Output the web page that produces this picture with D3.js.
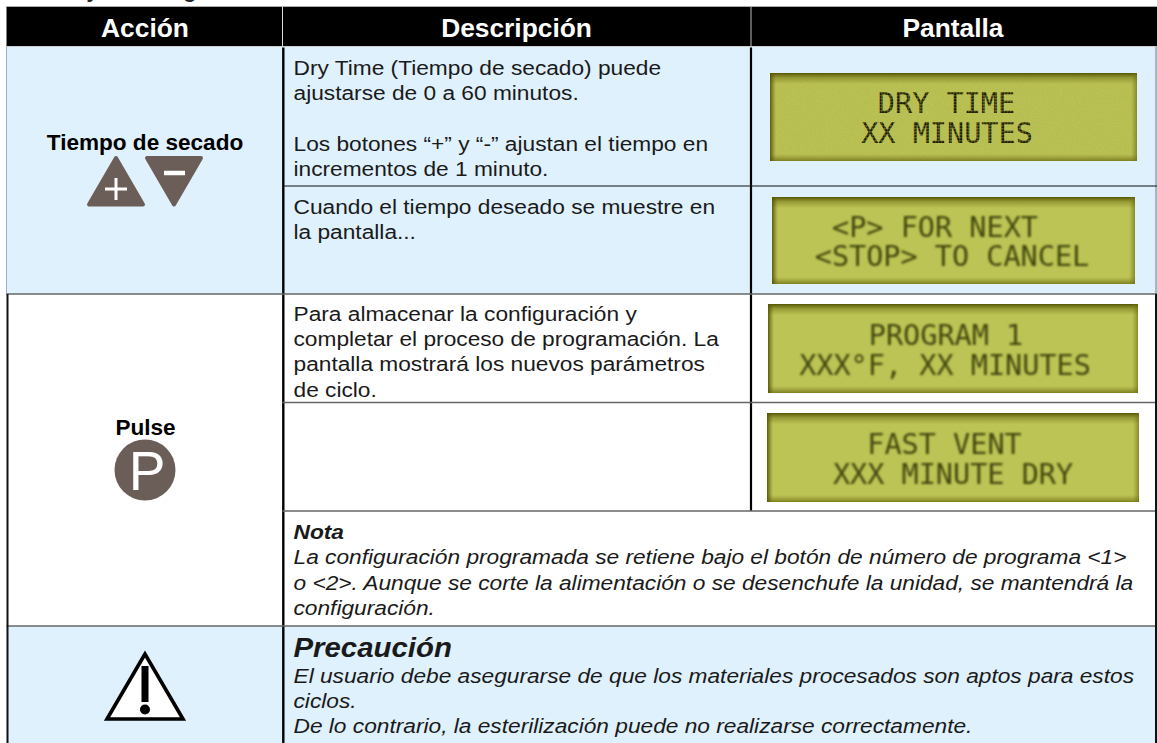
<!DOCTYPE html>
<html><head><meta charset="utf-8">
<script src="https://cdn.jsdelivr.net/npm/d3@7/dist/d3.min.js"></script>
<style>html,body{margin:0;padding:0;background:#fff}svg{display:block}text{font-family:"Liberation Sans",Arial,sans-serif}</style>
</head><body><svg id="c" width="1157" height="743"></svg>
<script>
const headers=["Acción","Descripción","Pantalla"];
const clippedTitle="Secado y ciclo largo";
const actionLabels=["Tiempo de secado","Pulse"];
const descriptionBlocks=[
 ["Dry Time (Tiempo de secado) puede","ajustarse de 0 a 60 minutos.","","Los botones “+” y “-” ajustan el tiempo en","incrementos de 1 minuto."],
 ["Cuando el tiempo deseado se muestre en","la pantalla..."],
 ["Para almacenar la configuración y","completar el proceso de programación. La","pantalla mostrará los nuevos parámetros","de ciclo."]
];
const noteTitle="Nota";
const noteLines=["La configuración programada se retiene bajo el botón de número de programa <1>","o <2>. Aunque se corte la alimentación o se desenchufe la unidad, se mantendrá la","configuración."];
const cautionTitle="Precaución";
const cautionLines=["El usuario debe asegurarse de que los materiales procesados son aptos para estos","ciclos.","De lo contrario, la esterilización puede no realizarse correctamente."];
const lcdScreens=[["DRY TIME","XX MINUTES"],["<P> FOR NEXT","<STOP> TO CANCEL"],["PROGRAM 1","XXX°F, XX MINUTES"],["FAST VENT","XXX MINUTE DRY"]];

// layout
const W=1157,H=743;
const X=d3.scaleOrdinal(["left","a","b","right"],[6.5,282.5,751,1156]);
const Y=d3.scaleOrdinal(["top","head","r1","r2","r3","r4","r5","bottom"],[6.5,46.5,186,294,402.5,511,626,743]);
const lcdBox=[[770,73,367,88],[772,197,363,87],[768,304,370,89],[767,413,372,89]];
const lcdBase=[[113,143],[237,266],[345,375],[454,484]];
const lcdCx=[[946.5,947],[935,952],[946,945],[944.5,953]];
const blue="#dff1fd", ink="#6b5e58";
const svg=d3.select("#c"), defs=svg.append("defs");

// defs
const grad=(id,x2,y2,stops)=>{const g=defs.append("linearGradient").attr("id",id).attr("x1",0).attr("y1",0).attr("x2",x2).attr("y2",y2);
  stops.forEach(s=>g.append("stop").attr("offset",s[0]).attr("stop-color",s[1]).attr("stop-opacity",s[2]));};
grad("gTop",0,1,[[0,"#4f4f00",.95],[.45,"#6b6b10",.45],[1,"#6b6b10",0]]);
grad("gBot",0,1,[[0,"#7b7b20",0],[1,"#6b6b10",.75]]);
grad("gLeft",1,0,[[0,"#505000",.9],[1,"#6b6b10",0]]);
grad("gRight",1,0,[[0,"#7b7b20",0],[1,"#6b6b10",.65]]);
const fb=defs.append("filter").attr("id","blur").attr("x","-5%").attr("y","-10%").attr("width","110%").attr("height","120%");
fb.append("feGaussianBlur").attr("stdDeviation",.8);
const fn=defs.append("filter").attr("id","grain").attr("x",0).attr("y",0).attr("width","100%").attr("height","100%");
fn.append("feTurbulence").attr("type","fractalNoise").attr("baseFrequency",.9).attr("numOctaves",2).attr("seed",4);
fn.append("feColorMatrix").attr("values","0 0 0 0 .35  0 0 0 0 .35  0 0 0 0 .05  0 0 0 .5 -.12");
const pat=defs.append("pattern").attr("id","dots").attr("patternUnits","userSpaceOnUse").attr("width",3).attr("height",3);
pat.append("rect").attr("width",3).attr("height",3).attr("fill","#6a6a20");
pat.append("circle").attr("cx",1.3).attr("cy",1.3).attr("r",1.3).attr("fill","#1d1d08");

// fills
const bg=svg.append("g");
const fill=(x0,x1,y0,y1,c)=>bg.append("rect").attr("x",x0).attr("y",y0).attr("width",x1-x0).attr("height",y1-y0).attr("fill",c);
fill(X("left"),W,Y("head"),Y("r2"),blue);
fill(X("left"),W,Y("r5"),H,blue);
fill(X("left"),W,Y("top"),Y("head"),"#000");

// grid
const grid=svg.append("g");
const line=(x1,y1,x2,y2,c,w)=>grid.append("line").attr("x1",x1).attr("y1",y1).attr("x2",x2).attr("y2",y2).attr("stroke",c).attr("stroke-width",w);
line(X("left"),Y("top"),W,Y("top"),"#aaa",1);
line(X("left"),Y("head"),W,Y("head"),"#ccc",1);
line(X("a"),Y("top"),X("a"),Y("head"),"#ddd",1);
line(X("b"),Y("top"),X("b"),Y("head"),"#bbb",1);
line(X("left"),Y("head"),X("left"),Y("r2"),"#aab",1);
line(X("right"),Y("head"),X("right"),Y("r2"),"#777",1);
line(X("a")+.8,Y("head")+1,X("a")+.8,H,"#000",2.4);
line(X("b"),Y("head")+1,X("b"),Y("r4"),"#000",2.2);
line(X("a"),Y("r1"),W,Y("r1"),"#111",1);
line(X("left"),Y("r2"),W,Y("r2"),"#666",1.4);
line(X("a"),Y("r3"),W,Y("r3"),"#666",1.4);
line(X("a"),Y("r4"),W,Y("r4"),"#666",1.4);
line(X("left"),Y("r5"),W,Y("r5"),"#666",1.4);
line(7.5,Y("r2"),7.5,H,"#111",2);
line(1156,Y("r2"),1156,H,"#111",2);

// text helper: the reference's type is slightly stretched horizontally
const txt=(g,s,x,y,size,opt={})=>g.append("text").attr("transform",`translate(${x},${y}) scale(${opt.k||1.082},1)`).attr("font-size",size)
 .attr("font-weight",opt.w||"normal").attr("font-style",opt.i?"italic":"normal").attr("text-anchor",opt.a||"start")
 .attr("fill",opt.c||"#1a1a1a").text(s);
const t=svg.append("g");
txt(t,clippedTitle,6,-2,21,{w:"bold",c:"#222",k:1});
const headX=[145,516.5,953];
headers.forEach((h,i)=>txt(t,h,headX[i],36.5,25,{w:"bold",a:"middle",c:"#fff",k:1.054}));
txt(t,actionLabels[0],145,150,21.5,{w:"bold",a:"middle",c:"#000",k:1.05});
txt(t,actionLabels[1],145.5,435,21.5,{w:"bold",a:"middle",c:"#000",k:1.05});
const leftX=293.5, lh=25.4, blockY=[74.5,214,320.5];
descriptionBlocks.forEach((b,k)=>b.forEach((s,i)=>txt(t,s,leftX,blockY[k]+i*lh,21)));
txt(t,noteTitle,leftX,538.5,21,{w:"bold",i:1});
noteLines.forEach((s,i)=>txt(t,s,leftX,564+i*25.5,21,{i:1}));
txt(t,cautionTitle,leftX,657,28,{w:"bold",i:1,k:1.05});
cautionLines.forEach((s,i)=>txt(t,s,leftX,682.5+i*25.2,21,{i:1}));

// LCDs
lcdScreens.forEach((lines,k)=>{
 const [x,y,w,h]=lcdBox[k], g=svg.append("g");
 g.append("rect").attr("x",x).attr("y",y).attr("width",w).attr("height",h).attr("rx",k==0?2:0).attr("fill","#bcc455");
 if(k==0) g.append("rect").attr("x",x).attr("y",y).attr("width",w).attr("height",h).attr("filter","url(#grain)");
 const e=[[x,y,w,11,"gTop"],[x,y+h-7,w,7,"gBot"],[x,y,6,h,"gLeft"],[x+w-6,y,6,h,"gRight"]];
 e.forEach(r=>g.append("rect").attr("x",r[0]).attr("y",r[1]).attr("width",r[2]).attr("height",r[3]).attr("fill",`url(#${r[4]})`));
 lines.forEach((s,i)=>{
  const tx=g.append("text").attr("x",lcdCx[k][i]).attr("y",lcdBase[k][i]).attr("text-anchor","middle")
    .attr("font-size",28.5).style("font-family",'"DejaVu Sans Mono",monospace').text(s);
  if(k==0) tx.attr("fill","url(#dots)"); else tx.attr("fill","#43460f").attr("filter","url(#blur)");
 });
});

// icons
const ic=svg.append("g");
const rounded=(pts,c)=>ic.append("path").attr("d",d3.line().curve(d3.curveLinearClosed)(pts)).attr("fill",c).attr("stroke",c).attr("stroke-width",4).attr("stroke-linejoin","round");
rounded([[116,158],[89,204.5],[143,204.5]],ink);
rounded([[147,158],[201,158],[174,204.5]],ink);
ic.append("path").attr("d","M105,189H127M116,178V200").attr("stroke","#fff").attr("stroke-width",3).attr("fill","none");
ic.append("path").attr("d","M164,173H185").attr("stroke","#fff").attr("stroke-width",4.5);
ic.append("circle").attr("cx",145).attr("cy",470).attr("r",30.5).attr("fill",ink);
ic.append("text").attr("x",147).attr("y",489.5).attr("text-anchor","middle").attr("font-size",55).attr("fill","#fff").text("P");
ic.append("path").attr("d",d3.line().curve(d3.curveLinearClosed)([[145,654],[107,719],[183,719]])).attr("fill","#fff").attr("stroke","#000").attr("stroke-width",3.6).attr("stroke-linejoin","miter");
ic.append("rect").attr("x",141.5).attr("y",666).attr("width",7).attr("height",36).attr("fill","#000");
ic.append("circle").attr("cx",145).attr("cy",709.5).attr("r",5).attr("fill","#000");
</script></body></html>
